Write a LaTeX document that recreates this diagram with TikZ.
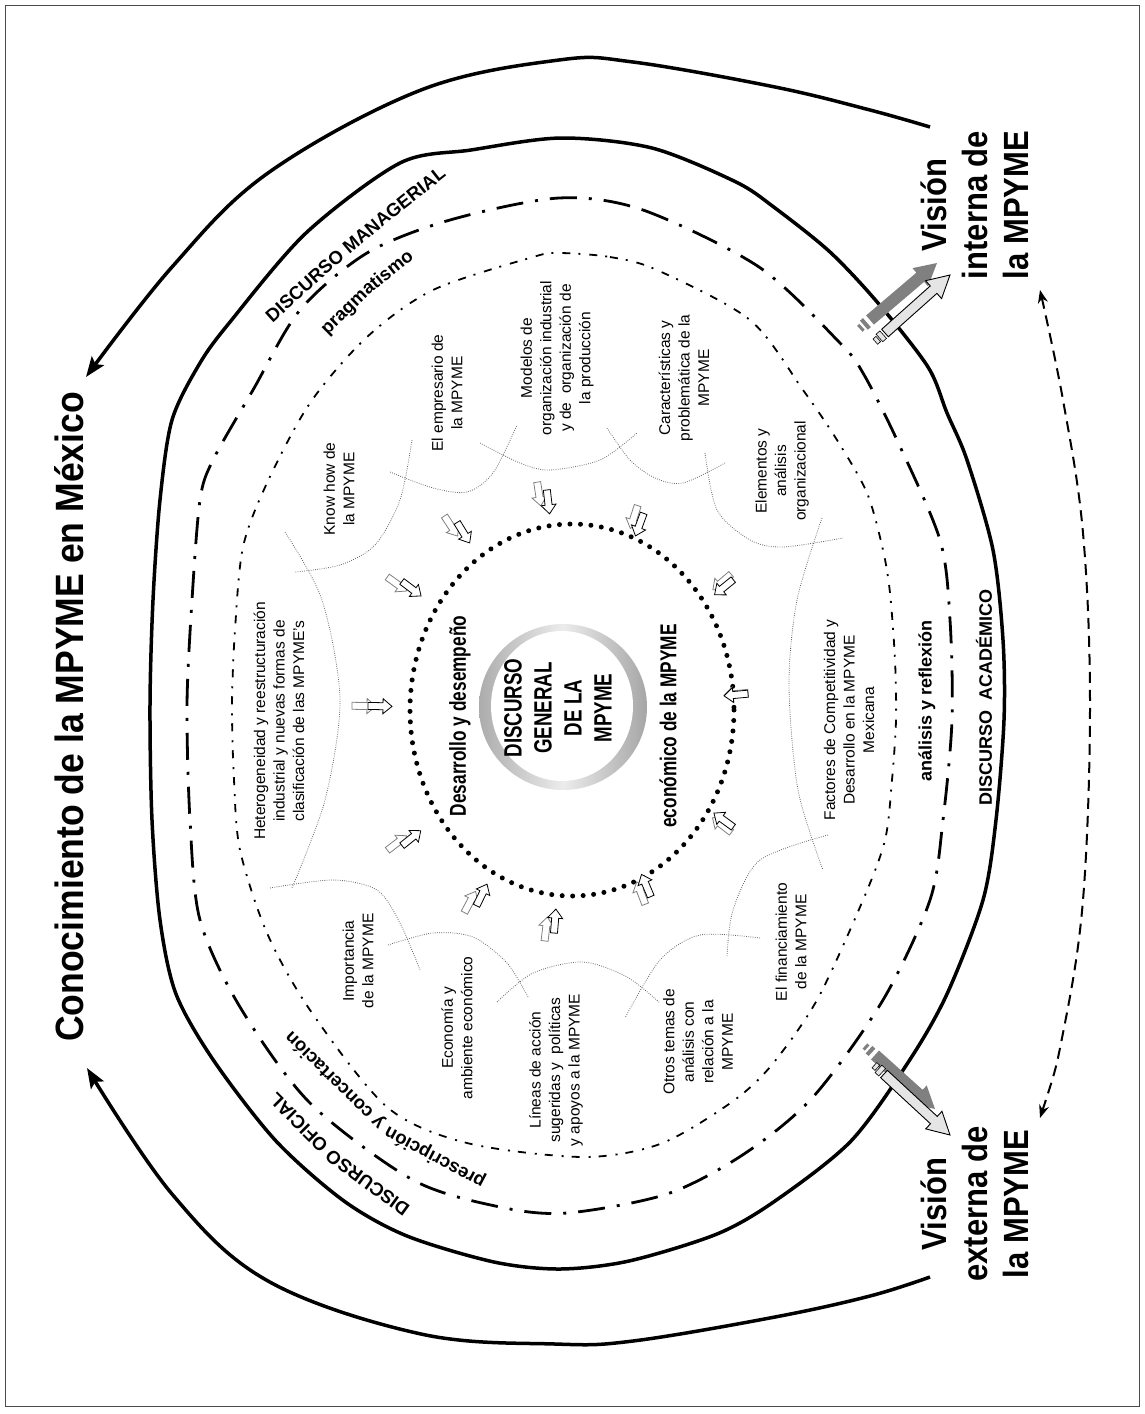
\documentclass[tikz,border=0pt]{standalone}
\usepackage{fontspec}
\setmainfont{Liberation Sans}
\newfontfamily\narrowfont[FakeStretch=0.75]{Liberation Sans}
\newfontfamily\titlefont[FakeStretch=0.9]{Liberation Sans}
\newfontfamily\visfont[FakeStretch=0.885]{Liberation Sans}
\usetikzlibrary{calc,decorations.text,arrows.meta}
\newcommand\curvfont{\fontsize{18.5}{20}\selectfont\bfseries}
% block arrow: #1 style, #2 tail, #3 tip, #4 shaft half width, #5 head half width, #6 head length
\newcommand\blockarr[6]{%
  \coordinate (baT) at #2; \coordinate (baP) at #3;
  \coordinate (baH) at ($(baP)!#6!(baT)$);
  \path[#1] ($(baT)!#4!90:(baP)$) -- ($(baH)!#4!-90:(baT)$) -- ($(baH)!#5!-90:(baT)$) -- (baP)
     -- ($(baH)!#5!90:(baT)$) -- ($(baH)!#4!90:(baT)$) -- ($(baT)!#4!-90:(baP)$) -- cycle;}
% pair of hollow arrows pointing to the centre
\newcommand\arrpair[2]{%
  \coordinate (apP) at (#1,#2);
  \coordinate (apQ) at ($($(apP)!8pt!(ctr)$)+(8pt,0pt)$);
  \blockarr{draw=gray,fill=white,line width=0.8pt}{($(apP)!-12pt!(ctr)$)}{($(apP)!12pt!(ctr)$)}{3.5pt}{7.5pt}{9pt}
  \blockarr{draw=black,fill=white,line width=0.8pt}{($(apQ)!-12pt!(ctr)$)}{($(apQ)!12pt!(ctr)$)}{3.5pt}{7.5pt}{9pt}}
\begin{document}
\begin{tikzpicture}[x=1pt,y=-1pt,
  topic/.style={rotate=90, align=center, font=\fontsize{15.5}{19.5}\selectfont, inner sep=0pt},
  nlabel/.style={rotate=90, align=center, font=\narrowfont\fontsize{23}{27}\selectfont\bfseries, inner sep=0pt},
  blabel/.style={rotate=90, align=center, font=\fontsize{18}{20}\selectfont\bfseries, inner sep=0pt},
  vis/.style={rotate=90, align=center, font=\visfont\fontsize{35}{41}\selectfont\bfseries, inner sep=0pt},
  bigline/.style={line width=3.5pt, line join=round},
  dashdotline/.style={line width=2.8pt, dash pattern=on 27pt off 12pt on 3pt off 12pt},
  dashdotdotline/.style={line width=1.8pt, dash pattern=on 8pt off 8pt on 2pt off 9pt},
  petal/.style={gray!80!black, line width=0.8pt, dash pattern=on 0.8pt off 1.4pt},
  tailbit/.style={draw=black, fill=gray!20, line width=0.6pt, inner sep=0pt},
  curvetext/.style={decorate, decoration={text along path, text align=center}},
]
\useasboundingbox (0,0) rectangle (1145,1414);
\draw[line width=1pt, gray!60!black] (5,5) rectangle (1139,1406);
\coordinate (ctr) at (572,710);

% title
\node[rotate=90, anchor=base, font=\titlefont\fontsize{39.5}{44}\selectfont\bfseries, inner sep=0pt] (title) at (83,717) {Conocimiento de la MPYME en México};

% vision nodes
\node[vis] (vint) at (975,205) {Visión\\interna de\\la MPYME};
\node[vis] (vext) at (975,1204) {Visión\\externa de\\la MPYME};

% outer arcs
\draw[bigline, -{Stealth[length=20pt,width=15pt,inset=4pt]}] plot[smooth, tension=0.6] coordinates
  {(930,127) (870,110) (775,87) (633,62) (559,60) (421,90) (268,173) (172,267) (86,377)};
\draw[bigline, -{Stealth[length=20pt,width=15pt,inset=4pt]}] plot[smooth, tension=0.6] coordinates
  {(930,1277) (870,1296) (775,1317) (633,1341) (555,1344) (421,1334) (268,1281) (172,1194) (87,1068)};

% solid ellipse
\draw[bigline] plot[smooth cycle, tension=0.5] coordinates {
 (561,138) (652,148) (736,182) (775,208) (830,252) (878,303) (928,367) (947,413) (967,460) (993,550)
 (1003,640) (1004,720) (996,820) (983,900) (947,994) (909,1061) (851,1141) (775,1201) (717,1234)
 (629,1261) (560,1269) (494,1262) (407,1236) (344,1201) (276,1141) (214,1061) (176,994) (160,920)
 (152,820) (150,705) (153,600) (160,500) (172,420) (200,363) (230,322) (306,233) (400,163) (471,150)};

% dash-dot ellipse
\draw[dashdotline] plot[smooth cycle, tension=0.5] coordinates {
 (559,198) (643,210) (759,267) (840,343) (863,373) (897,440) (940,540) (950,620) (952,720) (943,820)
 (930,900) (883,1000) (813,1097) (744,1154) (667,1194) (567,1213) (500,1207) (413,1180) (310,1103)
 (240,1007) (200,920) (190,820) (187,705) (192,600) (200,500) (213,460) (253,390) (300,310)
 (367,253) (450,220)};

% dash-dot-dot ellipse
\draw[dashdotdotline] plot[smooth cycle, tension=0.5] coordinates {
 (559,253) (610,257) (657,270) (750,320) (803,390) (837,440) (867,493) (883,550) (890,593) (895,660)
 (896,720) (892,780) (885,840) (863,900) (817,1000) (770,1067) (729,1104) (660,1144) (583,1157)
 (467,1143) (387,1107) (310,1010) (267,933) (240,850) (234,780) (232,705) (235,630) (243,547)
 (267,483) (310,403) (367,337) (433,290) (533,257)};

% dotted circle
\draw[line width=5pt, dash pattern=on 0pt off 10.5pt, line cap=round] (572,710) ellipse [x radius=162, y radius=186];

% central ring
\shade[left color=gray!65, right color=gray!70, middle color=gray!15] (563,707) ellipse [x radius=84, y radius=83];
\fill[white] (562,706) ellipse [x radius=71, y radius=75];
\node[rotate=90, align=center, font=\narrowfont\fontsize{25}{30}\selectfont\bfseries, inner sep=0pt] (disc) at (558,708) {DISCURSO\\GENERAL\\DE LA\\MPYME};

\node[nlabel] (desa) at (460,716) {Desarrollo y desempeño};
\node[nlabel] (econ) at (668,726) {económico de la MPYME};

% petals
\draw[petal] plot[smooth] coordinates {(285,532) (322,600) (340,700) (325,800) (292,888)};
\draw[petal] plot[smooth] coordinates {(412,440) (400,500) (375,545) (340,565) (295,572)};
\draw[petal] plot[smooth] coordinates {(390,472) (433,488) (467,492) (493,473) (517,425)};
\draw[petal] plot[smooth] coordinates {(480,443) (520,463) (550,470) (600,460) (637,433)};
\draw[petal] plot[smooth] coordinates {(607,428) (630,460) (655,478) (683,483) (725,463)};
\draw[petal] plot[smooth] coordinates {(705,453) (717,510) (750,540) (783,547) (843,538)};
\draw[petal] plot[smooth] coordinates {(822,518) (797,600) (789,685) (798,790) (823,870)};
\draw[petal] plot[smooth] coordinates {(828,835) (760,860) (733,910) (727,957)};
\draw[petal] plot[smooth] coordinates {(760,938) (700,935) (660,960) (625,1018)};
\draw[petal] plot[smooth] coordinates {(497,1002) (533,973) (583,962) (627,977) (660,1003)};
\draw[petal] plot[smooth] coordinates {(388,945) (433,933) (473,937) (507,963) (528,997)};
\draw[petal] plot[smooth] coordinates {(270,888) (333,880) (377,890) (400,923) (420,970)};

% topics
\node[topic] (hetero) at (279,721) {Heterogeneidad y reestructuración\\industrial y nuevas formas de\\clasificación de las MPYME's};
\node[topic] (know) at (339,489) {Know how de\\la MPYME};
\node[topic] (empr) at (447,393) {El empresario de\\la MPYME};
\node[topic] (mode) at (557,358) {Modelos de\\organización industrial\\y de\ \ organización de\\la producción};
\node[topic] (cara) at (684,378) {Características y\\problemática de la\\MPYME};
\node[topic] (elem) at (782,471) {Elementos y\\análisis\\organizacional};
\node[topic] (fact) at (849,720) {Factores de Competitividad y\\Desarrollo en la MPYME\\Mexicana};
\node[topic] (fina) at (791,942) {El financiamiento\\de la MPYME};
\node[topic] (otro) at (698,1042) {Otros temas de\\análisis con\\relación a la\\MPYME};
\node[topic] (line) at (556,1070) {Líneas de acción\\sugeridas y\ \ políticas\\y apoyos a la MPYME};
\node[topic] (ecoa) at (457,1028) {Economía y\\ambiente económico};
\node[topic] (impo) at (358,961) {Importancia\\de la MPYME};

% arrow pairs
\arrpair{539}{494}
\arrpair{451}{526}
\arrpair{397}{584}
\arrpair{364}{706}
\arrpair{397}{843}
\arrpair{470}{902}
\arrpair{546}{929}
\arrpair{641}{893}
\arrpair{722}{825}
\arrpair{736}{694}
\arrpair{722}{582}
\arrpair{634}{517}

% right labels
\node[blabel] (acad) at (984,697) {DISCURSO\ \ ACADÉMICO};
\node[blabel] (anal) at (927,701) {análisis y reflexión};

% curved labels (polylines)
\path[curvetext, decoration={text={|\curvfont|DISCURSO MANAGERIAL}}] (262,333) -- (337,265) -- (397,215) -- (458,167);
\path[curvetext, decoration={text={|\curvfont|pragmatismo}}] (318,345) -- (370,294) -- (425,250);
\path[curvetext, decoration={text={|\curvfont|DISCURSO OFICIAL}}] (412,1207) -- (339,1154) -- (276,1091);
\path[curvetext, decoration={text={|\curvfont|prescripción y concertación}}] (485,1178) -- (391,1128) -- (293,1032);

% big arrow, vision interna
\blockarr{fill=gray}{(870,320)}{(937,263)}{6pt}{12pt}{22pt}
\draw[gray, line width=12pt] (866.9,322.6) -- (863.9,325.2);
\draw[gray, line width=8pt] (862.0,326.8) -- (859.8,328.8);
\blockarr{fill=gray!20, draw=black, line width=0.9pt}{(885,333)}{(950,275)}{5pt}{12pt}{22pt}
\node[tailbit, minimum width=5pt, minimum height=10pt, rotate=41.7] (wint1) at (881.3,336.3) {};
\node[tailbit, minimum width=4pt, minimum height=7pt, rotate=41.7] (wint2) at (876.8,340.3) {};

% big arrow, vision externa
\blockarr{fill=gray}{(875,1055)}{(935,1109)}{6pt}{12pt}{22pt}
\draw[gray, line width=10pt] (872.0,1052.3) -- (869.0,1049.6);
\draw[gray, line width=7pt] (867.1,1048.0) -- (864.9,1046.0);
\blockarr{fill=gray!20, draw=black, line width=0.9pt}{(884,1074)}{(950,1135)}{5pt}{12pt}{22pt}
\node[tailbit, minimum width=5pt, minimum height=10pt, rotate=-42.7] (wext1) at (880.3,1070.6) {};
\node[tailbit, minimum width=4pt, minimum height=7pt, rotate=-42.7] (wext2) at (875.9,1066.5) {};

% dashed double arrow
\coordinate (dtop) at (1040,290);
\coordinate (dbot) at (1040,1118);
\draw[line width=2pt, dash pattern=on 11pt off 7pt, {Stealth[length=13pt,width=10pt]}-{Stealth[length=13pt,width=10pt]}]
  plot[smooth, tension=0.6] coordinates {(dbot) (1063,1033) (1083,900) (1090,705) (1083,533) (1063,400) (dtop)};
\end{tikzpicture}
\end{document}
